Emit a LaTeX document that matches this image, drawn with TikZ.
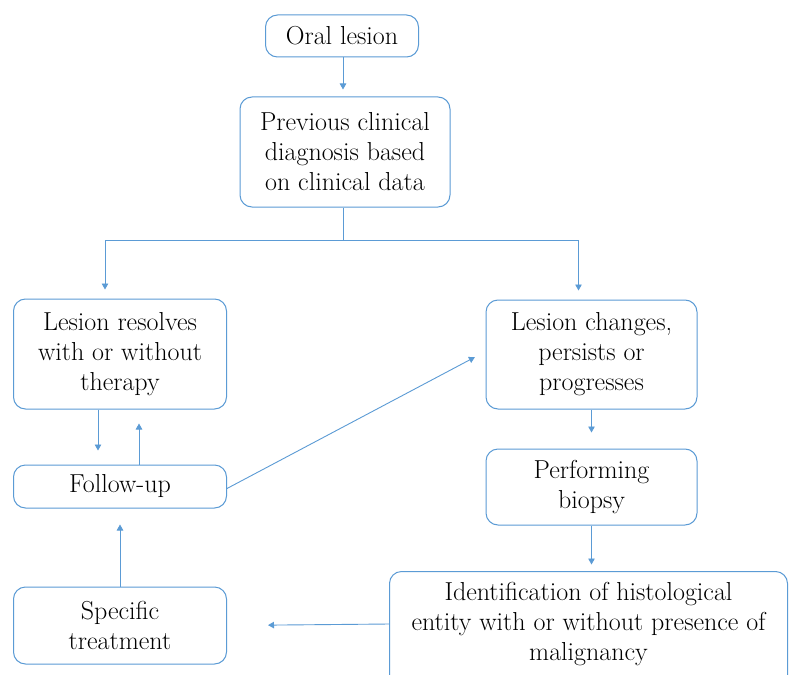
\documentclass[tikz,border=0pt]{standalone}
\usepackage{fontspec}
\usetikzlibrary{arrows.meta}
\definecolor{lineblue}{RGB}{91,155,213}
\begin{document}
\begin{tikzpicture}[x=1pt,y=-1pt,
  boxline/.style={draw=lineblue, line width=1pt, rounded corners=12pt},
  box/.style={boxline, align=center, inner sep=0pt,
    font=\fontsize{26}{30}\selectfont\addfontfeatures{LetterSpace=4}},
  conn/.style={draw=lineblue, line width=0.9pt},
  arr/.style={conn, -{Triangle[length=6pt,width=6.5pt]}}]
\useasboundingbox (0,0) rectangle (789,674);
\clip (0,0) rectangle (789,674);
\fill[white] (0,0) rectangle (789,674);
\node[box, minimum width=153pt, minimum height=42pt] (oral) at (342,36) {Oral lesion};
\node[box, minimum width=210pt, minimum height=110pt] (prev) at (345,152) {Previous clinical\\diagnosis based\\on clinical data};
\node[box, minimum width=213pt, minimum height=110pt] (resolve) at (120,354) {Lesion resolves\\with or without\\therapy};
\node[box, minimum width=213pt, minimum height=43pt] (follow) at (120,486.5) {Follow-up};
\node[box, minimum width=211pt, minimum height=109pt] (changes) at (591.5,354.5) {Lesion changes,\\persists or\\progresses};
\node[box, minimum width=211pt, minimum height=76pt] (biopsy) at (591.5,487) {Performing\\biopsy};
\node[box, draw=none, minimum width=397pt, minimum height=104pt] (ident) at (588.5,624) {Identification of histological\\entity with or without presence of\\malignancy};
\draw[boxline] (ident.north west) rectangle ([yshift=-20pt]ident.south east);
\node[box, minimum width=213pt, minimum height=77pt] (specific) at (120,625.5) {Specific\\treatment};

\draw[arr, shorten >=7pt] ([xshift=1pt]oral.south) -- ([xshift=-2pt]prev.north);
\draw[conn] ([xshift=-2pt]prev.south) -- ++(0,33) coordinate (split);
\draw[arr, shorten >=9pt] (split) -| ([xshift=-15pt]resolve.north);
\draw[arr, shorten >=9pt] (split) -| ([xshift=-13pt]changes.north);
\draw[arr, shorten >=14pt] ([xshift=-22pt]resolve.south) -- ([xshift=-22pt]follow.north);
\draw[arr, shorten >=14pt] ([xshift=19pt]follow.north) -- ([xshift=19pt]resolve.south);
\draw[arr, shorten >=12pt] ([yshift=-2pt]follow.east) -- ([yshift=3pt]changes.west);
\draw[arr, shorten >=16pt] (changes.south) -- (biopsy.north);
\draw[arr, shorten >=7pt] (biopsy.south) -- ([xshift=3pt]ident.north);
\draw[arr, shorten >=41pt] (ident.west) -- (specific.east);
\draw[arr, shorten >=16pt] (specific.north) -- (follow.south);
\end{tikzpicture}
\end{document}
